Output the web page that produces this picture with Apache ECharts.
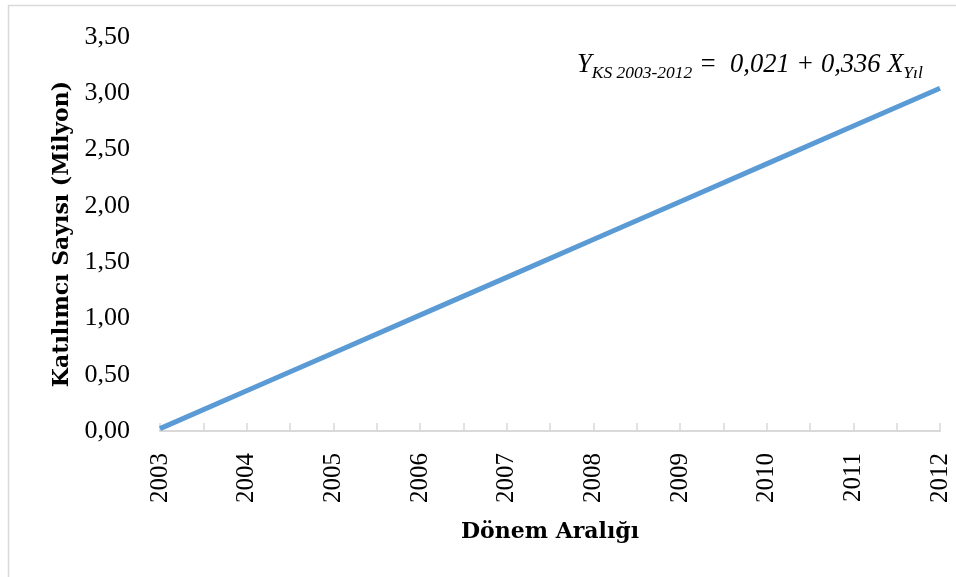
<!DOCTYPE html>
<html><head><meta charset="utf-8">
<script src="https://cdn.jsdelivr.net/npm/echarts@6/dist/echarts.min.js"></script>
<style>html,body{margin:0;padding:0;background:#fff}#c{width:956px;height:577px}</style>
</head><body><div id="c"></div>
<script>
const years = [2003, 2004, 2005, 2006, 2007, 2008, 2009, 2010, 2011, 2012];
const participants = [0.021, 0.357, 0.693, 1.029, 1.365, 1.701, 2.037, 2.373, 2.709, 3.045];
const yTitle = 'Katılımcı Sayısı (Milyon)';
const xTitle = 'Dönem Aralığı';

const F = '"Liberation Serif", "DejaVu Serif", serif';
const FB = '"DejaVu Serif", "Liberation Serif", serif';
const chart = echarts.init(document.getElementById('c'));
chart.setOption({
  animation: false,
  grid: {left: 160, right: 16, top: 37, bottom: 146},
  graphic: [
    {type: 'rect', shape: {x: 8.5, y: 5.5, width: 1000, height: 1000}, style: {fill: 'none', stroke: '#d9d9d9', lineWidth: 1.5}, silent: true},
    {type: 'text', left: 577, top: 52, style: {
      rich: {
        m: {fontFamily: F, fontStyle: 'italic', fontSize: 26.5, fill: '#000'},
        s: {fontFamily: F, fontStyle: 'italic', fontSize: 17.5, fill: '#000', padding: [16, 0, 0, 0]}
      },
      text: '{m|Y}{s|KS 2003-2012}{m| =  0,021 + 0,336 X}{s|Yıl}'
    }}
  ],
  xAxis: {
    type: 'value', min: 2003, max: 2012, interval: 1,
    name: xTitle, nameLocation: 'middle', nameGap: 90,
    nameTextStyle: {fontFamily: FB, fontWeight: 'bold', fontSize: 22, color: '#000'},
    axisLine: {show: true, lineStyle: {color: '#d9d9d9', width: 2}},
    axisTick: {show: true, inside: true, length: 8, lineStyle: {color: '#d9d9d9', width: 1.5}},
    minorTick: {show: true, splitNumber: 2, length: 8, lineStyle: {color: '#d9d9d9', width: 1.5}},
    splitLine: {show: false},
    axisLabel: {rotate: 90, fontFamily: F, fontSize: 25, color: '#000', margin: 22, formatter: v => String(v)}
  },
  yAxis: {
    type: 'value', min: 0, max: 3.5, interval: 0.5,
    name: yTitle, nameLocation: 'middle', nameGap: 87, nameRotate: 90,
    nameTextStyle: {fontFamily: FB, fontWeight: 'bold', fontSize: 22, color: '#000'},
    axisLine: {show: false}, axisTick: {show: false}, splitLine: {show: false},
    axisLabel: {fontFamily: F, fontSize: 26, color: '#000', margin: 30, formatter: v => v.toFixed(2).replace('.', ',')}
  },
  series: [{
    type: 'line', symbol: 'none',
    data: years.map((y, i) => [y, participants[i]]),
    lineStyle: {color: '#5b9bd5', width: 5}
  }]
});
</script></body></html>
